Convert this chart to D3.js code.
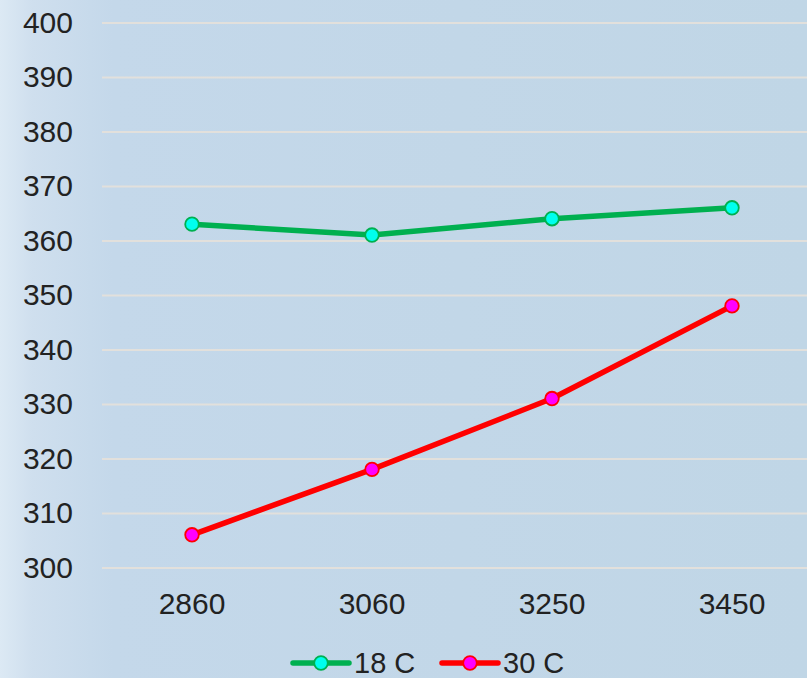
<!DOCTYPE html>
<html><head><meta charset="utf-8">
<script src="https://cdn.jsdelivr.net/npm/d3@7"></script>
<style>html,body{margin:0;padding:0;overflow:hidden;}svg{display:block;}</style>
</head><body><svg id="c" width="807" height="678"></svg>
<script>
const categories = ["2860", "3060", "3250", "3450"];
const series18 = [363, 361, 364, 366];
const series30 = [306, 318, 331, 348];
const seriesNames = ["18 C", "30 C"];
const yTicks = [300, 310, 320, 330, 340, 350, 360, 370, 380, 390, 400];

const svg = d3.select("#c");
const W = 807, H = 678;
const defs = svg.append("defs");
const g1 = defs.append("linearGradient").attr("id","bg").attr("x1","0").attr("x2","1").attr("y1","0").attr("y2","0");
g1.append("stop").attr("offset","0").attr("stop-color","#dce9f4");
g1.append("stop").attr("offset","0.04").attr("stop-color","#cfdfee");
g1.append("stop").attr("offset","0.14").attr("stop-color","#c4d8ea");
g1.append("stop").attr("offset","1").attr("stop-color","#c0d6e6");
svg.append("rect").attr("width",W).attr("height",H).attr("fill","url(#bg)");

const x = d3.scaleBand().domain(categories).range([102, 822]);
const y = d3.scaleLinear().domain([300, 400]).range([567.5, 22.5]);
const font = "'Liberation Sans', Arial, sans-serif";

const yAxis = d3.axisLeft(y).tickValues(yTicks).tickSize(-720).tickPadding(29).tickFormat(d3.format("d"));
const ga = svg.append("g").attr("transform","translate(102,0)").call(yAxis);
ga.attr("font-size",null).attr("font-family",null);
ga.select(".domain").remove();
ga.selectAll(".tick line").attr("stroke","#e2e0dc").attr("stroke-width",2);
ga.selectAll(".tick text").style("font-family",font).style("font-size","30px").attr("fill","#222");

const xAxis = d3.axisBottom(x).tickSize(0).tickPadding(25);
const gx = svg.append("g").attr("transform","translate(0,567.5)").call(xAxis);
gx.attr("font-size",null).attr("font-family",null);
gx.select(".domain").remove();
gx.selectAll(".tick text").style("font-family",font).style("font-size","30px").attr("fill","#222");

const cx = d => x(d) + x.bandwidth()/2;
const data = [
  {name: seriesNames[0], vals: series18, line: "#00b050", fill: "#00ffee"},
  {name: seriesNames[1], vals: series30, line: "#ff0000", fill: "#ff00ff"}
];
const lineGen = d3.line().x((v,i)=>cx(categories[i])).y(v=>y(v));
data.forEach(s => {
  svg.append("path").attr("d", lineGen(s.vals)).attr("fill","none")
    .attr("stroke", s.line).attr("stroke-width",5.5).attr("stroke-linejoin","round");
  svg.selectAll(null).data(s.vals).enter().append("circle")
    .attr("cx",(v,i)=>cx(categories[i])).attr("cy",v=>y(v)).attr("r",6.8)
    .attr("fill", s.fill).attr("stroke", s.line).attr("stroke-width",1.8);
});

// legend
const legX = [293, 442];
data.forEach((s,i) => {
  const lg = svg.append("g").attr("transform",`translate(${legX[i]},663)`);
  lg.append("line").attr("x1",0).attr("x2",56).attr("y1",0).attr("y2",0)
    .attr("stroke", s.line).attr("stroke-width",5.5).attr("stroke-linecap","round");
  lg.append("circle").attr("cx",28).attr("cy",0).attr("r",6.8).attr("fill",s.fill).attr("stroke",s.line).attr("stroke-width",1.8);
  lg.append("text").attr("x",61).attr("y",10).style("font-family",font).style("font-size","29px").attr("fill","#222").text(s.name);
});
</script></body></html>
